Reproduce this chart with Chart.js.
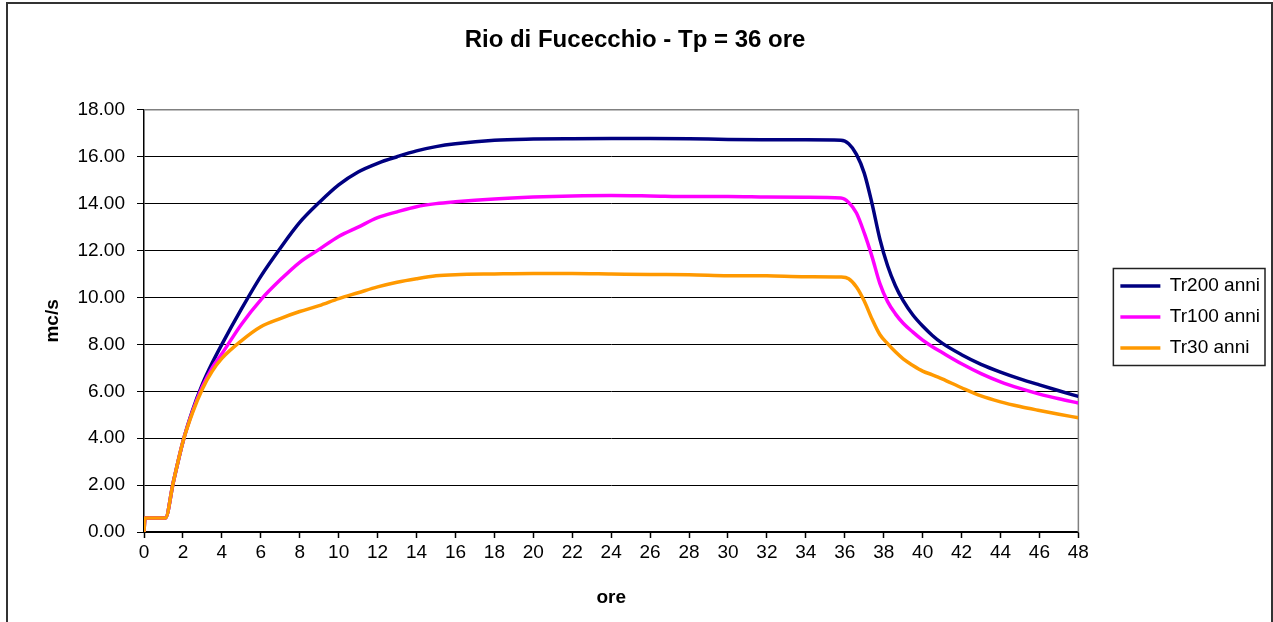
<!DOCTYPE html>
<html>
<head>
<meta charset="utf-8">
<script src="https://cdn.jsdelivr.net/npm/chart.js@4/dist/chart.umd.min.js"></script>
<style>
  html, body { margin: 0; padding: 0; background: #fff; }
  #wrap { width: 1273px; height: 622px; }
</style>
</head>
<body>
<div id="wrap"><canvas id="chart" width="1273" height="622"></canvas></div>
<script>
// ore (hours) shared by all the series
const hours = [0, 0.05, 1.1, 1.5, 2, 2.5, 3, 3.5, 4, 5, 6, 7, 8, 9, 10, 11, 12, 13, 14, 15, 16, 18, 20, 22, 24, 26, 28, 30, 32, 34, 35.8,
  36.2, 36.6, 37, 37.4, 37.8, 38.2, 38.6, 39, 39.5, 40, 40.5, 41, 42, 43, 44, 45, 46, 47, 48];

// portata, mc/s
const tr200 = [0, 0.6, 0.6, 2.1, 3.85, 5.2, 6.3, 7.2, 8.0, 9.5, 10.9, 12.1, 13.2, 14.05, 14.8, 15.35, 15.72, 16.0, 16.25, 16.43, 16.55, 16.7, 16.75, 16.77, 16.78, 16.78, 16.77, 16.73, 16.72, 16.72, 16.7,
  16.55, 16.1, 15.3, 14.0, 12.5, 11.35, 10.5, 9.86, 9.25, 8.78, 8.38, 8.05, 7.56, 7.15, 6.82, 6.53, 6.27, 6.02, 5.78];
const tr100 = [0, 0.6, 0.6, 2.1, 3.85, 5.15, 6.2, 7.0, 7.6, 8.85, 9.9, 10.75, 11.5, 12.05, 12.6, 13.0, 13.4, 13.65, 13.87, 14.0, 14.08, 14.2, 14.28, 14.33, 14.35, 14.33, 14.3, 14.3, 14.28, 14.27, 14.24,
  14.05, 13.6, 12.75, 11.74, 10.6, 9.82, 9.3, 8.9, 8.52, 8.18, 7.9, 7.65, 7.17, 6.75, 6.4, 6.12, 5.88, 5.68, 5.5];
const tr30 = [0, 0.6, 0.6, 2.1, 3.85, 5.1, 6.1, 6.85, 7.4, 8.15, 8.75, 9.1, 9.4, 9.65, 9.95, 10.2, 10.45, 10.65, 10.8, 10.92, 10.97, 11.0, 11.02, 11.02, 11.0, 10.98, 10.97, 10.93, 10.92, 10.88, 10.87,
  10.8, 10.45, 9.85, 9.08, 8.42, 8.03, 7.68, 7.38, 7.1, 6.86, 6.7, 6.53, 6.15, 5.8, 5.55, 5.35, 5.18, 5.02, 4.87];

const FONT = "'Liberation Sans', Arial, sans-serif";

const toPoints = (vals) => vals.map((v, i) => ({x: hours[i], y: v}));

const series = (label, vals, color, order) => ({
  label,
  data: toPoints(vals),
  borderColor: color,
  backgroundColor: color,
  borderWidth: 3.5,
  pointRadius: 0,
  cubicInterpolationMode: 'monotone',
  order,
});

// outer frame, legend box and the grey top/right edge of the plot area
const frames = {
  id: 'frames',
  beforeDatasetsDraw(chart) {
    const {ctx, chartArea: a} = chart;
    ctx.save();
    ctx.strokeStyle = '#808080';
    ctx.lineWidth = 1.5;
    ctx.beginPath();
    ctx.moveTo(a.left, a.top);
    ctx.lineTo(a.right, a.top);
    ctx.lineTo(a.right, a.bottom);
    ctx.stroke();
    ctx.restore();
  },
  afterDraw(chart) {
    const {ctx} = chart;
    ctx.save();
    ctx.strokeStyle = '#333';
    ctx.lineWidth = 2;
    ctx.strokeRect(7, 3, 1265, 660);
    const boxes = chart.legend.legendHitBoxes;
    if (boxes && boxes.length) {
      const first = boxes[0], last = boxes[boxes.length - 1];
      const right = Math.max(...boxes.map(b => b.left + b.width));
      ctx.lineWidth = 1.5;
      ctx.strokeStyle = '#222';
      ctx.strokeRect(first.left - 7, first.top - 8, right - first.left + 12, last.top + last.height - first.top + 16);
    }
    ctx.restore();
  }
};

new Chart(document.getElementById('chart'), {
  type: 'line',
  data: {
    datasets: [
      series('Tr200 anni', tr200, '#000080', 2),
      series('Tr100 anni', tr100, '#FF00FF', 1),
      series('Tr30 anni', tr30, '#FF9900', 0),
    ],
  },
  options: {
    responsive: false,
    animation: false,
    layout: { padding: { left: 0, right: 3, top: 0, bottom: 0 } },
    scales: {
      x: {
        type: 'linear',
        min: 0,
        max: 48,
        ticks: { stepSize: 2, color: '#000', font: { family: FONT, size: 19 }, maxRotation: 0 },
        grid: { drawOnChartArea: false, tickLength: 6, tickColor: '#000', tickWidth: 1.5 },
        border: { color: '#000', width: 1.5 },
        title: { display: true, text: 'ore', color: '#000', font: { family: FONT, size: 19, weight: 'bold' }, padding: { top: 0, bottom: 13 } },
        afterFit: (scale) => { scale.height = 90; },
      },
      y: {
        min: 0,
        max: 18,
        ticks: {
          stepSize: 2,
          color: '#000',
          padding: 12,
          font: { family: FONT, size: 19 },
          callback: (value) => value.toFixed(2),
        },
        grid: { color: '#000', lineWidth: 1, tickLength: 7 },
        border: { color: '#000', width: 1.5 },
        title: { display: true, text: 'mc/s', color: '#000', font: { family: FONT, size: 19, weight: 'bold' }, padding: { top: 41, bottom: 0 } },
        afterFit: (scale) => { scale.width = 144; },
      },
      gap: {
        position: 'right',
        display: true,
        ticks: { display: false },
        grid: { display: false },
        border: { display: false },
        afterFit: (scale) => { scale.width = 30; },
      },
    },
    plugins: {
      title: {
        display: true,
        text: 'Rio di Fucecchio - Tp = 36 ore',
        color: '#000',
        font: { family: FONT, size: 24, weight: 'bold' },
        padding: { top: 26, bottom: 55 },
      },
      legend: {
        position: 'right',
        title: { display: true, text: '', font: { size: 10 }, padding: 0 },
        labels: {
          usePointStyle: true,
          pointStyle: 'line',
          pointStyleWidth: 40,
          padding: 12,
          color: '#000',
          font: { family: FONT, size: 19 },
          sort: (a, b) => a.datasetIndex - b.datasetIndex,
        },
      },
      tooltip: { enabled: false },
    },
  },
  plugins: [frames],
});
</script>
</body>
</html>
